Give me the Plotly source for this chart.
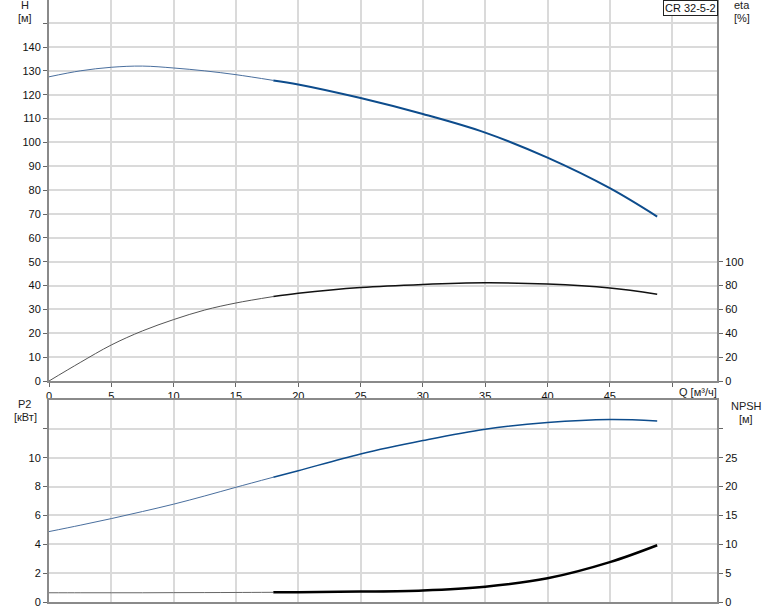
import plotly.graph_objects as go

# ---- data ----
Q = [0, 2.5, 5, 7.5, 10, 12.5, 15, 18, 20, 25, 30, 35, 40, 45, 48.8]
H = [127.5, 130.0, 131.5, 132.0, 131.2, 130.0, 128.4, 126.0, 124.3, 118.6, 111.9, 104.1, 93.6, 80.8, 68.9]
ETA = [0, 15.5, 30.2, 42.0, 51.5, 59.5, 65.4, 70.8, 73.5, 78.4, 81.0, 82.3, 81.3, 78.0, 72.8]
P2 = [4.88, 5.32, 5.78, 6.27, 6.78, 7.35, 7.95, 8.65, 9.1, 10.26, 11.19, 11.98, 12.44, 12.65, 12.55]
NPSH = [1.6, 1.6, 1.6, 1.6, 1.62, 1.63, 1.65, 1.68, 1.7, 1.8, 2.0, 2.65, 4.1, 6.9, 9.83]
SPLIT = 7  # index where the thick (recommended) part begins

X_TICKS = [0, 5, 10, 15, 20, 25, 30, 35, 40, 45, 50]
X_LABELS = ["0", "5", "10", "15", "20", "25", "30", "35", "40", "45", ""]
H_TICKS = [0, 10, 20, 30, 40, 50, 60, 70, 80, 90, 100, 110, 120, 130, 140, 150]
H_LABELS = [str(v) for v in H_TICKS[:-1]] + [""]
ETA_TICKS = [0, 20, 40, 60, 80, 100]
P2_TICKS = [0, 2, 4, 6, 8, 10, 12]
P2_LABELS = ["0", "2", "4", "6", "8", "10", ""]
NPSH_TICKS = [0, 5, 10, 15, 20, 25, 30]
NPSH_LABELS = ["0", "5", "10", "15", "20", "25", ""]

W, HGT = 774, 611
L, R, T, B = 49, 57, 0, 9
PW, PH = W - L - R, HGT - T - B


def px(x):
    return (x - L) / PW


def py(y):
    return (HGT - B - y) / PH


FONT = "Liberation Sans, Arial, sans-serif"
GRID = "#dadada"
AXIS = "#8a8a8a"

fig = go.Figure()


def add(xa, ya, vals, c_thin, c_thick, w_thin, w_thick):
    fig.add_trace(go.Scatter(x=Q[:SPLIT + 1], y=vals[:SPLIT + 1], xaxis=xa, yaxis=ya,
                             mode="lines", line=dict(color=c_thin, width=w_thin, shape="spline"),
                             showlegend=False, hoverinfo="skip"))
    fig.add_trace(go.Scatter(x=Q[SPLIT:], y=vals[SPLIT:], xaxis=xa, yaxis=ya,
                             mode="lines", line=dict(color=c_thick, width=w_thick, shape="spline"),
                             showlegend=False, hoverinfo="skip"))


add("x", "y", H, "#4a6f9e", "#0d4c8c", 1, 2)
add("x", "y2", ETA, "#555555", "#111111", 1, 1.5)
add("x2", "y3", P2, "#4a6f9e", "#0d4c8c", 1, 1.5)
add("x2", "y4", NPSH, "#666666", "#000000", 1, 2.5)

common_x = dict(range=[0, 53.6], tickvals=X_TICKS, showgrid=True, gridcolor=GRID, gridwidth=1.5,
                zeroline=False, showline=True, linecolor=AXIS, linewidth=2,
                tickfont=dict(family=FONT, size=11, color="#111"))
common_y = dict(showgrid=True, gridcolor=GRID, gridwidth=1.5, zeroline=False, showline=True,
                linecolor=AXIS, linewidth=2, ticks="outside", ticklen=4, tickcolor="#666",
                tickfont=dict(family=FONT, size=11, color="#111"))

fig.update_layout(
    width=W, height=HGT,
    margin=dict(l=L, r=R, t=T, b=B, pad=0),
    paper_bgcolor="white", plot_bgcolor="white",
    xaxis=dict(domain=[0, 1], anchor="y", ticktext=X_LABELS, ticks="outside", ticklen=4,
               tickcolor="#666", **common_x),
    yaxis=dict(domain=[py(381), 1], range=[0, 159.7], tickvals=H_TICKS, ticktext=H_LABELS,
               anchor="x", **common_y),
    yaxis2=dict(overlaying="y", side="right", anchor="x", range=[0, 319.4], tickvals=ETA_TICKS,
                showgrid=False, zeroline=False, showline=True, linecolor=AXIS, linewidth=2,
                ticks="outside", ticklen=4, tickcolor="#666",
                tickfont=dict(family=FONT, size=11, color="#111")),
    xaxis2=dict(domain=[0, 1], anchor="y3", showticklabels=False, ticks="", mirror=True,
                **common_x),
    yaxis3=dict(domain=[0, py(400)], range=[0, 14], tickvals=P2_TICKS, ticktext=P2_LABELS,
                anchor="x2", **common_y),
    yaxis4=dict(overlaying="y3", side="right", anchor="x2", range=[0, 35], tickvals=NPSH_TICKS,
                ticktext=NPSH_LABELS, showgrid=False, zeroline=False, showline=True,
                linecolor=AXIS, linewidth=2, ticks="outside", ticklen=4, tickcolor="#666",
                tickfont=dict(family=FONT, size=11, color="#111")),
)


def note(text, x, y, **kw):
    fig.add_annotation(text=text, x=px(x), y=py(y), xref="paper", yref="paper",
                       showarrow=False, xanchor=kw.pop("xanchor", "center"), yanchor="middle",
                       font=dict(family=FONT, size=11, color="#222"), **kw)


note("H", 25, 5)
note("[м]", 25, 18)
note("eta", 742, 5)
note("[%]", 742, 18)
note("P2", 24, 404)
note("[кВт]", 25, 417)
note("NPSH", 746, 406)
note("[м]", 746, 419)
note("Q [м³/ч]", 677, 392, xanchor="left")
fig.add_annotation(text="CR 32-5-2", x=px(690), y=py(8), xref="paper", yref="paper",
                   showarrow=False, xanchor="center", yanchor="middle",
                   font=dict(family=FONT, size=11, color="#111"),
                   bgcolor="white", bordercolor="#222", borderwidth=1, borderpad=1)

fig.write_html("out.html", config={"displayModeBar": False},
               post_script="document.body.style.margin='0';document.body.style.padding='0';")
